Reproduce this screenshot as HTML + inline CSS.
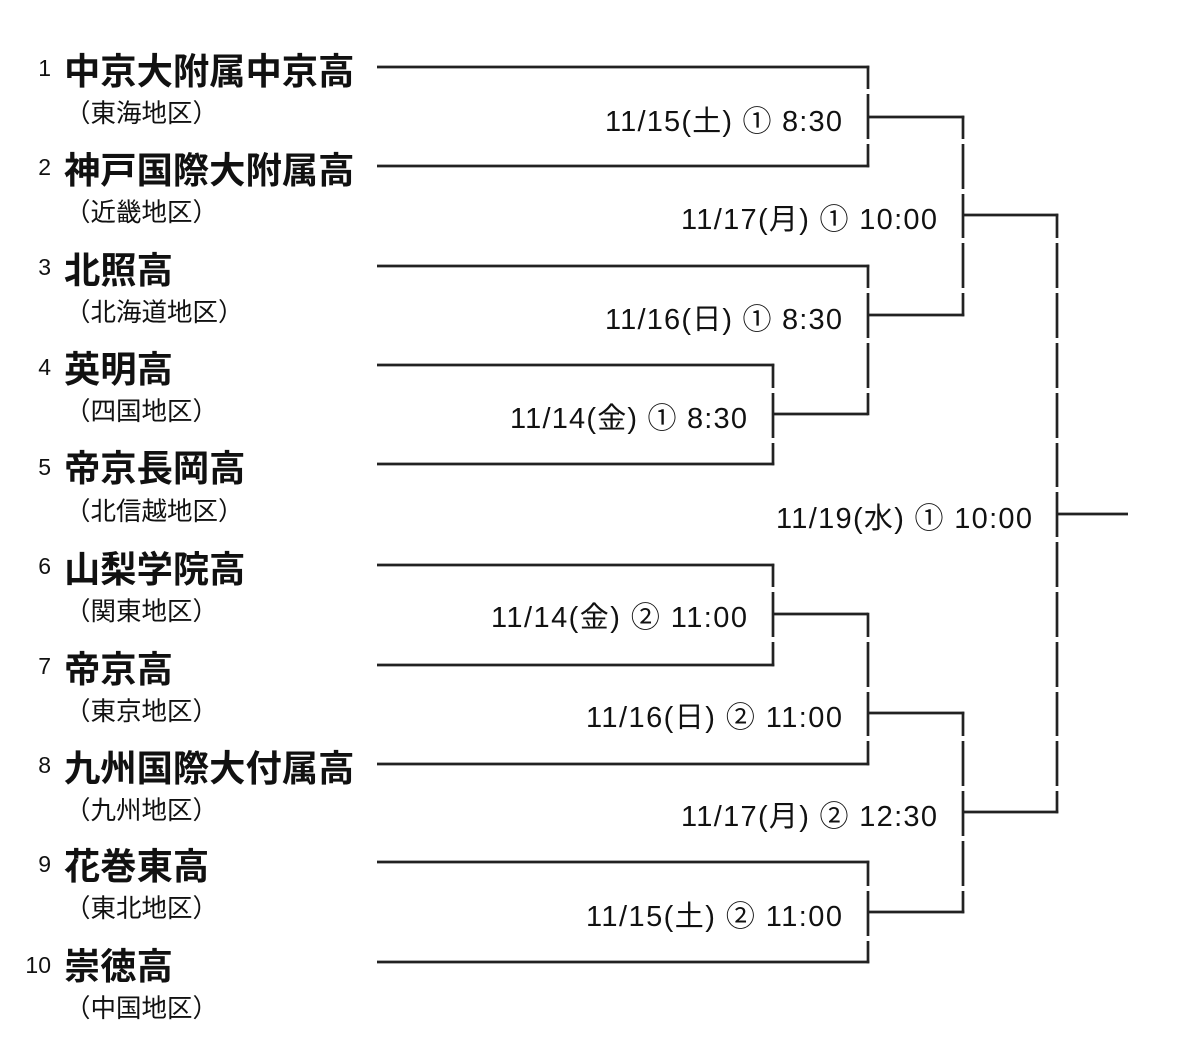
<!DOCTYPE html>
<html><head><meta charset="utf-8"><style>
html,body{margin:0;padding:0;background:#fff;}
svg{display:block;}
.n{font-family:"Liberation Sans",sans-serif;font-size:23px;fill:#111;}
.t{font-family:"Liberation Sans","Noto Sans CJK JP",sans-serif;font-size:36.3px;font-weight:bold;fill:#111;}
.r{font-family:"Liberation Sans","Noto Sans CJK JP",sans-serif;font-size:25.5px;fill:#111;}
.d{font-family:"Liberation Sans","Noto Sans CJK JP",sans-serif;font-size:29px;fill:#111;}
</style></head><body>
<svg width="1200" height="1040" viewBox="0 0 1200 1040" xmlns="http://www.w3.org/2000/svg">
<g stroke="#222" stroke-width="2.7" fill="none" stroke-linecap="butt">
<line x1="377" y1="67" x2="869.3" y2="67"/>
<line x1="377" y1="166" x2="869.3" y2="166"/>
<line x1="377" y1="266" x2="869.3" y2="266"/>
<line x1="377" y1="365" x2="774.3" y2="365"/>
<line x1="377" y1="464" x2="774.3" y2="464"/>
<line x1="377" y1="565" x2="774.3" y2="565"/>
<line x1="377" y1="665" x2="774.3" y2="665"/>
<line x1="377" y1="764" x2="869.3" y2="764"/>
<line x1="377" y1="862" x2="869.3" y2="862"/>
<line x1="377" y1="962" x2="869.3" y2="962"/>
<line x1="868" y1="117" x2="964.3" y2="117"/>
<line x1="773" y1="414" x2="868" y2="414"/>
<line x1="868" y1="315" x2="964.3" y2="315"/>
<line x1="963" y1="215" x2="1058.3" y2="215"/>
<line x1="773" y1="614" x2="868" y2="614"/>
<line x1="868" y1="713" x2="964.3" y2="713"/>
<line x1="868" y1="912" x2="964.3" y2="912"/>
<line x1="963" y1="812" x2="1058.3" y2="812"/>
<line x1="1057" y1="514" x2="1128" y2="514"/>
<line x1="868" y1="65.7" x2="868" y2="89"/><line x1="868" y1="94" x2="868" y2="139"/><line x1="868" y1="144" x2="868" y2="167.3"/>
<line x1="773" y1="363.7" x2="773" y2="388"/><line x1="773" y1="393" x2="773" y2="438"/><line x1="773" y1="443" x2="773" y2="465.3"/>
<line x1="868" y1="264.7" x2="868" y2="288"/><line x1="868" y1="293" x2="868" y2="338"/><line x1="868" y1="343" x2="868" y2="388"/><line x1="868" y1="393" x2="868" y2="415.3"/>
<line x1="963" y1="115.7" x2="963" y2="139"/><line x1="963" y1="144" x2="963" y2="189"/><line x1="963" y1="194" x2="963" y2="238"/><line x1="963" y1="243" x2="963" y2="288"/><line x1="963" y1="293" x2="963" y2="316.3"/>
<line x1="773" y1="563.7" x2="773" y2="587"/><line x1="773" y1="592" x2="773" y2="637"/><line x1="773" y1="642" x2="773" y2="666.3"/>
<line x1="868" y1="612.7" x2="868" y2="637"/><line x1="868" y1="642" x2="868" y2="687"/><line x1="868" y1="692" x2="868" y2="736"/><line x1="868" y1="741" x2="868" y2="765.3"/>
<line x1="868" y1="860.7" x2="868" y2="886"/><line x1="868" y1="891" x2="868" y2="936"/><line x1="868" y1="941" x2="868" y2="963.3"/>
<line x1="963" y1="711.7" x2="963" y2="736"/><line x1="963" y1="741" x2="963" y2="786"/><line x1="963" y1="791" x2="963" y2="836"/><line x1="963" y1="841" x2="963" y2="886"/><line x1="963" y1="891" x2="963" y2="913.3"/>
<line x1="1057" y1="213.7" x2="1057" y2="238"/><line x1="1057" y1="243" x2="1057" y2="288"/><line x1="1057" y1="293" x2="1057" y2="338"/><line x1="1057" y1="343" x2="1057" y2="388"/><line x1="1057" y1="393" x2="1057" y2="438"/><line x1="1057" y1="443" x2="1057" y2="487"/><line x1="1057" y1="492" x2="1057" y2="537"/><line x1="1057" y1="542" x2="1057" y2="587"/><line x1="1057" y1="592" x2="1057" y2="637"/><line x1="1057" y1="642" x2="1057" y2="687"/><line x1="1057" y1="692" x2="1057" y2="736"/><line x1="1057" y1="741" x2="1057" y2="786"/><line x1="1057" y1="791" x2="1057" y2="813.3"/>
</g>

<g class="n" text-anchor="end">
<text x="51" y="76">1</text>
<text x="51" y="175">2</text>
<text x="51" y="275">3</text>
<text x="51" y="375">4</text>
<text x="51" y="475">5</text>
<text x="51" y="574">6</text>
<text x="51" y="674">7</text>
<text x="51" y="773">8</text>
<text x="51" y="872">9</text>
<text x="51" y="973">10</text>
</g>

<g class="t">
<text x="64" y="84">中京大附属中京高</text>
<text x="64" y="183">神戸国際大附属高</text>
<text x="64" y="283">北照高</text>
<text x="64" y="382">英明高</text>
<text x="64" y="481">帝京長岡高</text>
<text x="64" y="582">山梨学院高</text>
<text x="64" y="682">帝京高</text>
<text x="64" y="781">九州国際大付属高</text>
<text x="64" y="879">花巻東高</text>
<text x="64" y="979">崇徳高</text>
</g>

<g class="r">
<text x="65" y="122">（東海地区）</text>
<text x="65" y="221">（近畿地区）</text>
<text x="65" y="321">（北海道地区）</text>
<text x="65" y="420">（四国地区）</text>
<text x="65" y="520">（北信越地区）</text>
<text x="65" y="620">（関東地区）</text>
<text x="65" y="720">（東京地区）</text>
<text x="65" y="819">（九州地区）</text>
<text x="65" y="917">（東北地区）</text>
<text x="65" y="1017">（中国地区）</text>
</g>

<g class="d">
<text x="605" y="131" textLength="237" lengthAdjust="spacing">11/15(土) ① 8:30</text>
<text x="681" y="229" textLength="256" lengthAdjust="spacing">11/17(月) ① 10:00</text>
<text x="605" y="329" textLength="237" lengthAdjust="spacing">11/16(日) ① 8:30</text>
<text x="510" y="428" textLength="237" lengthAdjust="spacing">11/14(金) ① 8:30</text>
<text x="776" y="528" textLength="256" lengthAdjust="spacing">11/19(水) ① 10:00</text>
<text x="491" y="627" textLength="256" lengthAdjust="spacing">11/14(金) ② 11:00</text>
<text x="586" y="727" textLength="256" lengthAdjust="spacing">11/16(日) ② 11:00</text>
<text x="681" y="826" textLength="256" lengthAdjust="spacing">11/17(月) ② 12:30</text>
<text x="586" y="926" textLength="256" lengthAdjust="spacing">11/15(土) ② 11:00</text>
</g>
</svg>
</body></html>
